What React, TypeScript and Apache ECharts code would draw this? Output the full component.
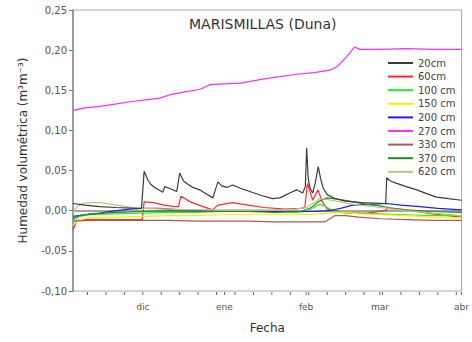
import React, { useEffect, useRef } from 'react';
import * as echarts from 'echarts';

// x values are days counted from 1 November (1 Dec = 30, 1 Jan = 61, 1 Feb = 92, 1 Mar = 120, 1 Apr = 151)
const monthDays = [30, 61, 92, 120, 151];
const monthLabels = ['dic', 'ene', 'feb', 'mar', 'abr'];
const weekTickDays = [9, 16, 23, 30, 37, 44, 51, 58, 65, 72, 79, 86, 93, 100, 107, 114, 121, 128, 135, 142, 149];

const seriesNames = ['20cm', '60cm', '100 cm', '150 cm', '200 cm', '270 cm', '330 cm', '370 cm', '620 cm'];
const seriesColors = ['#3a3a3a', '#ff2a2a', '#2ee82e', '#f2f200', '#1c1cff', '#ff2cff', '#a65a5a', '#1f8f1f', '#c4bf7a'];

const d20: [number, number][] = [
  [3.5, 0.009], [8, 0.007], [13.7, 0.005], [20, 0.004], [27.7, 0.003], [29.5, 0.003], [30.5, 0.049], [31.2, 0.044],
  [32, 0.038], [33, 0.033], [34.5, 0.029], [36, 0.026], [37.6, 0.023], [38.3, 0.030], [40, 0.028], [42.9, 0.024], [44, 0.047], [44.7, 0.042],
  [45.5, 0.037], [46.7, 0.034], [49, 0.029], [51.6, 0.026], [54, 0.021], [56.6, 0.016], [58.5, 0.036], [60, 0.031], [61.9, 0.029],
  [64.1, 0.032], [67, 0.028], [70.6, 0.024], [75, 0.019], [79.3, 0.015], [82, 0.016], [85.8, 0.022], [88.4, 0.026],
  [90.7, 0.022], [91.7, 0.030], [92.2, 0.078], [92.8, 0.040], [93.5, 0.028], [94.5, 0.022], [95.5, 0.035], [96.6, 0.055],
  [97.5, 0.040], [98.5, 0.028], [100, 0.020], [103, 0.015], [107, 0.012], [113, 0.010], [122.2, 0.009], [122.6, 0.041],
  [124, 0.037], [126.4, 0.034], [130, 0.030], [134, 0.026], [138, 0.021], [141.5, 0.017], [146, 0.015], [151, 0.013],
];
const d60: [number, number][] = [
  [3.5, -0.024], [5, -0.012], [8, -0.011], [15, -0.011], [25, -0.011], [29.8, -0.011], [30.5, 0.011], [34, 0.010],
  [38, 0.007], [42, 0.005], [43.5, 0.005], [44.5, 0.018], [48, 0.011], [52, 0.006], [56.5, 0.001], [58.5, 0.007],
  [64, 0.010], [70, 0.007], [76, 0.004], [84, 0.002], [90, 0.003], [91.5, 0.004], [92.5, 0.034], [94.5, 0.013],
  [96.5, 0.026], [98, 0.012], [100, 0.002], [107, -0.003], [115, -0.003], [122, 0.000], [123, 0.003], [130, 0.001],
  [140, -0.004], [151, -0.008],
];
const d100: [number, number][] = [
  [3.5, -0.012], [6, -0.007], [10, -0.005], [20, -0.004], [30, -0.003], [40, -0.002], [50, -0.002], [60, -0.001],
  [70, -0.001], [80, -0.001], [88, -0.002], [92, -0.001], [95, 0.004], [97, 0.008], [99, 0.006], [101, 0.002],
  [104, -0.001], [110, -0.003], [120, -0.004], [130, -0.005], [140, -0.006], [151, -0.006],
];
const d150: [number, number][] = [
  [3.5, -0.018], [6, -0.011], [10, -0.009], [20, -0.008], [30, -0.007], [40, -0.006], [50, -0.006], [60, -0.005],
  [70, -0.005], [80, -0.005], [90, -0.005], [96, -0.004], [100, -0.003], [106, -0.002], [112, -0.004], [120, -0.005],
  [130, -0.006], [140, -0.008], [151, -0.009],
];
const d200: [number, number][] = [
  [3.5, -0.007], [8, -0.005], [13.7, -0.003], [20, 0.000], [25, 0.002], [30, 0.003], [36.4, 0.003], [44, 0.001],
  [52, 0.000], [59.2, -0.001], [70, -0.001], [80, -0.001], [89.6, -0.001], [95, -0.001], [101, 0.000], [105, 0.003],
  [109.7, 0.007], [116, 0.008], [122.6, 0.009], [128, 0.007], [135.1, 0.005], [142, 0.003], [151, 0.001],
];
const d270: [number, number][] = [
  [3.5, 0.125], [8, 0.128], [13.7, 0.130], [20, 0.133], [26, 0.136], [31, 0.138], [36, 0.140], [41, 0.145],
  [46, 0.148], [51.6, 0.151], [55.4, 0.157], [61, 0.158], [67, 0.159], [75.5, 0.164], [82, 0.167], [88.4, 0.170],
  [95, 0.172], [101, 0.175], [104, 0.180], [107.4, 0.192], [110.4, 0.204], [112.3, 0.201], [120, 0.201], [130, 0.202],
  [140, 0.201], [151, 0.201],
];
const d330: [number, number][] = [
  [3.5, -0.013], [10, -0.012], [20, -0.012], [30, -0.012], [40, -0.012], [50, -0.013], [60, -0.013], [70, -0.013],
  [80, -0.014], [90, -0.014], [99, -0.014], [101, -0.010], [103, -0.006], [107, -0.006], [112, -0.008], [120, -0.010],
  [130, -0.011], [140, -0.012], [151, -0.012],
];
const d370: [number, number][] = [
  [3.5, -0.010], [6, -0.006], [10, -0.004], [20, -0.002], [30, -0.001], [40, 0.000], [50, -0.001], [60, -0.001],
  [70, -0.001], [80, -0.002], [90, -0.001], [94, 0.004], [97, 0.012], [100, 0.016], [105, 0.014], [110, 0.011],
  [115, 0.008], [120, 0.006], [123, 0.004], [130, 0.001], [140, -0.001], [151, -0.002],
];
const d620: [number, number][] = [
  [3.5, -0.002], [5, 0.005], [7, 0.009], [10, 0.010], [14, 0.010], [18, 0.008], [22, 0.006], [26, 0.004],
  [30, 0.003], [40, 0.002], [50, 0.001], [60, 0.001], [70, 0.001], [80, 0.001], [88, 0.002], [92, 0.004],
  [95, 0.010], [97, 0.015], [100, 0.014], [105, 0.011], [110, 0.008], [115, 0.006], [120, 0.004], [130, 0.000],
  [140, -0.003], [151, -0.006],
];
const seriesData = [d20, d60, d100, d150, d200, d270, d330, d370, d620];
const tickDays = [...weekTickDays, 61, 92, 120, 151];

const FONT = 'DejaVu Sans';

export default function App() {
  const ref = useRef<HTMLDivElement>(null);
  useEffect(() => {
    const chart = echarts.init(ref.current!, null, { renderer: 'svg' });
    const option: any = {
      animation: false,
      backgroundColor: '#ffffff',
      title: {
        text: 'MARISMILLAS (Duna)',
        left: 189,
        top: 17,
        padding: 0,
        textStyle: { fontFamily: FONT, fontSize: 14, fontWeight: 'normal', color: '#333' },
      },
      legend: {
        orient: 'vertical',
        left: 388,
        top: 57,
        padding: 0,
        itemWidth: 25,
        itemHeight: 2,
        itemGap: 1.6,
        icon: 'rect',
        textStyle: { fontFamily: FONT, fontSize: 10, color: '#444', lineHeight: 12 },
        data: seriesNames,
      },
      grid: {
        left: 73,
        right: 9,
        top: 10,
        bottom: 51,
        show: true,
        borderColor: '#aaaaaa',
        borderWidth: 1,
      },
      xAxis: {
        type: 'value',
        min: 3.5,
        max: 151,
        name: 'Fecha',
        nameLocation: 'middle',
        nameGap: 31,
        nameTextStyle: { fontFamily: FONT, fontSize: 12, color: '#333' },
        axisLine: { lineStyle: { color: '#888', width: 1.5 } },
        axisTick: { show: false },
        axisLabel: {
          customValues: monthDays,
          formatter: (v: number) => {
            const i = monthDays.indexOf(Math.round(v));
            return i >= 0 ? monthLabels[i] : '';
          },
          fontFamily: FONT,
          fontSize: 9,
          color: '#555',
          margin: 11,
        },
        splitLine: { show: false },
      },
      yAxis: {
        type: 'value',
        min: -0.1,
        max: 0.25,
        interval: 0.05,
        name: 'Humedad volumétrica (m³m⁻³)',
        nameLocation: 'middle',
        nameGap: 44,
        nameTextStyle: { fontFamily: FONT, fontSize: 12, color: '#333' },
        axisLine: { show: true, lineStyle: { color: '#888', width: 1.5 } },
        axisTick: { show: true, length: 4, lineStyle: { color: '#777' } },
        axisLabel: {
          formatter: (v: number) => v.toFixed(2).replace('.', ','),
          fontFamily: FONT,
          fontSize: 10,
          color: '#555',
          margin: 6,
        },
        splitLine: { show: false },
      },
      series: [
        ...seriesNames.map((name, i) => ({
          name,
          type: 'line',
          data: seriesData[i],
          symbol: 'none',
          color: seriesColors[i],
          lineStyle: { width: 1.2, color: seriesColors[i] },
          z: i === 0 ? 3 : 2,
        })),
        {
          name: 'ticks',
          type: 'custom',
          silent: true,
          clip: false,
          data: tickDays.map((d) => [d, -0.1]),
          renderItem: (params: any, api: any) => {
            const p = api.coord([api.value(0), api.value(1)]);
            return {
              type: 'line',
              shape: { x1: p[0], y1: p[1] + 1, x2: p[0], y2: p[1] + 4 },
              style: { stroke: '#666', lineWidth: 1 },
            };
          },
        },
      ],
    };
    chart.setOption(option);
    return () => chart.dispose();
  }, []);
  return <div ref={ref} style={{ position: 'absolute', left: 0, top: 0, width: 472, height: 342 }} />;
}
